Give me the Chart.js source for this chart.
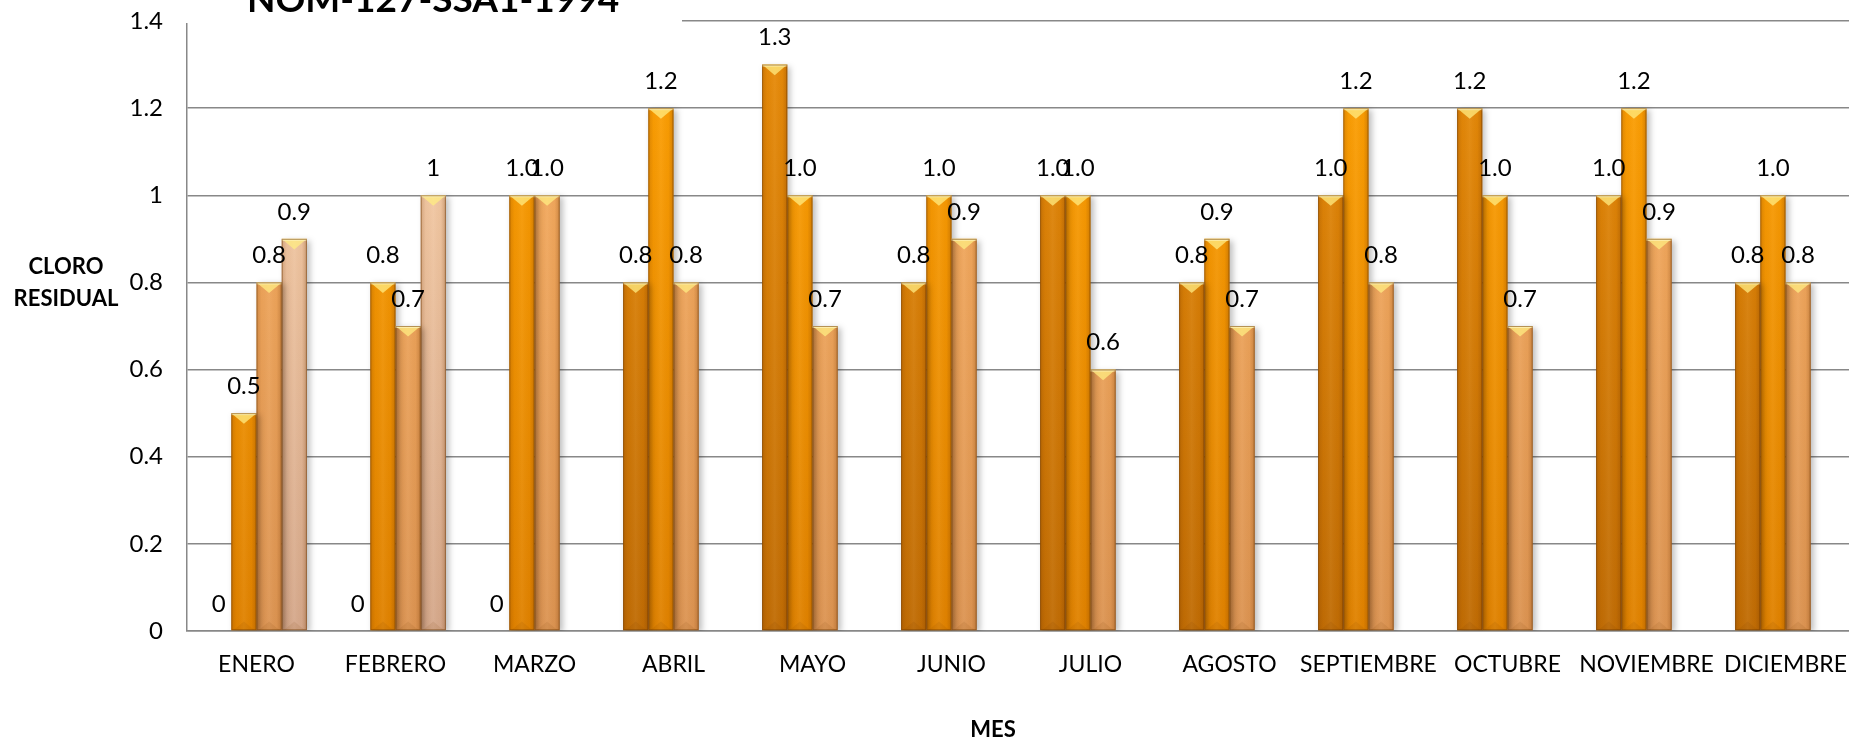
<!DOCTYPE html>
<html>
<head>
<meta charset="utf-8">
<script src="https://cdn.jsdelivr.net/npm/chart.js@4.4.1/dist/chart.umd.min.js"></script>
<style>
    html, body { margin: 0; padding: 0; background: #fff; overflow: hidden; }
    #wrap { position: relative; width: 1860px; height: 741px; }
</style>
</head>
<body>
<div id="wrap"><canvas id="chart"></canvas></div>
<script>
// data
const months = ['ENERO', 'FEBRERO', 'MARZO', 'ABRIL', 'MAYO', 'JUNIO', 'JULIO',
    'AGOSTO', 'SEPTIEMBRE', 'OCTUBRE', 'NOVIEMBRE', 'DICIEMBRE'];
const serie1 = [0, 0, 0, 0.8, 1.3, 0.8, 1.0, 0.8, 1.0, 1.2, 1.0, 0.8];
const serie2 = [0.5, 0.8, 1.0, 1.2, 1.0, 1.0, 1.0, 0.9, 1.2, 1.0, 1.2, 1.0];
const serie3 = [0.8, 0.7, 1.0, 0.8, 0.7, 0.9, 0.6, 0.7, 0.8, 0.7, 0.9, 0.8];
const serie4 = [0.9, 1, null, null, null, null, null, null, null, null, null, null];
const yMin = 0, yMax = 1.4, yStep = 0.2;

const titleText = 'NOM-127-SSA1-1994';
const yTitleLines = ['CLORO', 'RESIDUAL'];
const xTitleText = 'MES';

const FONT = 'Lato, "Open Sans", sans-serif';

// top / bottom colours of each series
const shades = [
    ['#e98c08', '#c06c04'],
    ['#ffa203', '#e08200'],
    ['#fab061', '#dc9452'],
    ['#fcd3ab', '#d5a88b']
];

function vGradient(idx) {
    return (ctx) => {
        const area = ctx.chart.chartArea;
        if (!area) return shades[idx][0];
        const g = ctx.chart.ctx.createLinearGradient(0, area.top, 0, area.bottom);
        g.addColorStop(0, shades[idx][0]);
        g.addColorStop(1, shades[idx][1]);
        return g;
    };
}

function fmtLabel(dsIndex, v) {
    if (v === 0) return '0';
    if (dsIndex === 3) return String(v);
    return v.toFixed(1);
}

// white box behind the title (hides the top grid line)
const titleBox = {
    id: 'titleBox',
    beforeDatasetsDraw(chart) {
        const ctx = chart.ctx;
        ctx.save();
        ctx.fillStyle = '#fff';
        ctx.fillRect(180, 0, 502, 23);
        ctx.restore();
    }
};

// drop shadow + bevel look on the bars
const barLook = {
    id: 'barLook',
    beforeDatasetsDraw(chart) {
        const ctx = chart.ctx;
        ctx.save();
        ctx.shadowColor = 'rgba(0,0,0,0.25)';
        ctx.shadowBlur = 6;
        ctx.shadowOffsetX = 3;
        ctx.shadowOffsetY = 2;
    },
    afterDatasetsDraw(chart) {
        const ctx = chart.ctx;
        ctx.restore();
        chart.data.datasets.forEach((ds, i) => {
            const meta = chart.getDatasetMeta(i);
            meta.data.forEach((bar, j) => {
                const v = ds.data[j];
                if (v === null || v === 0) return;
                const w = bar.width, l = bar.x - w / 2, r = bar.x + w / 2;
                const top = bar.y, bot = bar.base;
                // cylinder shading
                const hg = ctx.createLinearGradient(l, 0, r, 0);
                hg.addColorStop(0, 'rgba(110,50,0,0.22)');
                hg.addColorStop(0.2, 'rgba(110,50,0,0.03)');
                hg.addColorStop(0.5, 'rgba(255,255,255,0.05)');
                hg.addColorStop(0.8, 'rgba(110,50,0,0.03)');
                hg.addColorStop(1, 'rgba(110,50,0,0.28)');
                ctx.fillStyle = hg;
                ctx.fillRect(l, top, w, bot - top);
                // top bevel
                ctx.beginPath();
                ctx.moveTo(l, top);
                ctx.lineTo(r, top);
                ctx.lineTo(bar.x, top + w * 0.42);
                ctx.closePath();
                ctx.fillStyle = 'rgba(255,236,130,0.75)';
                ctx.fill();
                ctx.fillStyle = 'rgba(255,245,190,0.7)';
                ctx.fillRect(l, top, w, 2);
                // bottom bevel
                ctx.beginPath();
                ctx.moveTo(l + 2, bot);
                ctx.lineTo(r - 2, bot);
                ctx.lineTo(bar.x, bot - w * 0.35);
                ctx.closePath();
                ctx.fillStyle = 'rgba(120,60,0,0.10)';
                ctx.fill();
                // edge
                ctx.strokeStyle = 'rgba(110,55,0,0.5)';
                ctx.lineWidth = 1;
                ctx.strokeRect(l + 0.5, top + 0.5, w - 1, bot - top - 1);
            });
        });
    }
};

// value labels above every bar
const valueLabels = {
    id: 'valueLabels',
    afterDraw(chart) {
        const ctx = chart.ctx;
        ctx.save();
        ctx.font = '24px ' + FONT;
        ctx.fillStyle = '#000';
        ctx.textAlign = 'center';
        ctx.textBaseline = 'middle';
        chart.data.datasets.forEach((ds, i) => {
            const meta = chart.getDatasetMeta(i);
            meta.data.forEach((bar, j) => {
                const v = ds.data[j];
                if (v === null) return;
                ctx.fillText(fmtLabel(i, v), bar.x, bar.y - 27);
            });
        });
        ctx.restore();
    }
};

// chart title and axis titles
const titles = {
    id: 'titles',
    afterDraw(chart) {
        const ctx = chart.ctx;
        ctx.save();
        ctx.fillStyle = '#000';
        ctx.textAlign = 'center';
        ctx.textBaseline = 'alphabetic';
        ctx.font = 'bold 37px ' + FONT;
        ctx.fillText(titleText, 433, 12);
        ctx.textBaseline = 'middle';
        ctx.font = 'bold 22px ' + FONT;
        ctx.fillText(yTitleLines[0], 66, 267);
        ctx.fillText(yTitleLines[1], 66, 299);
        ctx.fillText(xTitleText, 993, 730);
        ctx.restore();
    }
};

const seriesData = [serie1, serie2, serie3, serie4];

new Chart(document.getElementById('chart'), {
    type: 'bar',
    data: {
        labels: months,
        datasets: seriesData.map((d, i) => ({
            label: 'Serie ' + (i + 1),
            data: d,
            backgroundColor: vGradient(i),
            borderWidth: 0,
            categoryPercentage: 0.725,
            barPercentage: 1
        }))
    },
    options: {
        responsive: true,
        maintainAspectRatio: false,
        animation: false,
        layout: { padding: { top: 21, right: 5, left: 0, bottom: 0 } },
        plugins: {
            legend: { display: false },
            tooltip: { enabled: false },
            title: { display: false }
        },
        scales: {
            x: {
                grid: { display: false, drawTicks: false },
                border: { color: '#888', width: 1.5 },
                ticks: {
                    color: '#000',
                    font: { family: FONT, size: 23 },
                    padding: 20,
                    maxRotation: 0,
                    autoSkip: false
                },
                afterFit(scale) {
                    scale.height = 110;
                    scale.paddingLeft = 0;
                    scale.paddingRight = 0;
                }
            },
            y: {
                min: yMin,
                max: yMax,
                grid: { color: '#888', lineWidth: 1.5, drawTicks: false },
                border: { color: '#888', width: 1.5 },
                ticks: {
                    stepSize: yStep,
                    color: '#000',
                    font: { family: FONT, size: 24 },
                    padding: 24,
                    callback: (v) => String(+v.toFixed(1))
                },
                afterFit(scale) {
                    scale.width = 187;
                    scale.paddingTop = 0;
                    scale.paddingBottom = 0;
                }
            }
        }
    },
    plugins: [titleBox, barLook, valueLabels, titles]
});
</script>
</body>
</html>
